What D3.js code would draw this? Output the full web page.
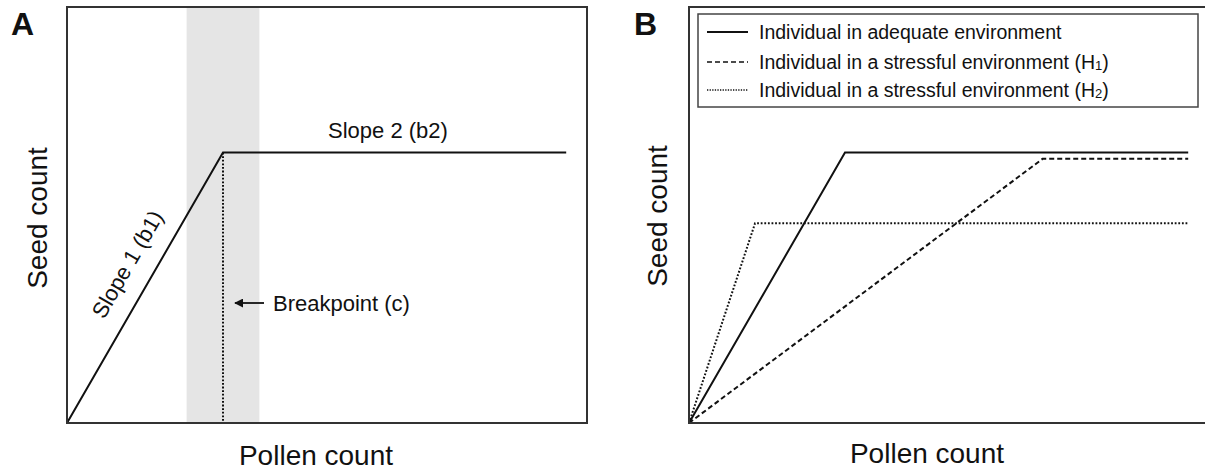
<!DOCTYPE html>
<html>
<head>
<meta charset="utf-8">
<script src="https://cdn.jsdelivr.net/npm/d3@7"></script>
<style>
  html, body { margin: 0; padding: 0; background: #fff; overflow: hidden; }
  svg { display: block; font-family: Arial, "Liberation Sans", sans-serif; overflow: hidden; }
</style>
</head>
<body>
<svg id="chart" width="1205" height="470"></svg>
<script>
// ---- Data (arbitrary conceptual units, 0-100) ----
const panelA_line = [[0, 0], [30, 65], [96, 65]];
const panelA_break = [[30, 65], [30, 0]];
const panelA_band = [23, 37];

const seriesNames = [
  "Individual in adequate environment",
  "Individual in a stressful environment (H",
  "Individual in a stressful environment (H"
];
const seriesSub = ["", "1", "2"];
const seriesAdequate = [[0, 0], [30, 65], [96, 65]];
const seriesH1 = [[0, 0], [68, 63.5], [96, 63.5]];
const seriesH2 = [[0, 0], [12.7, 48], [96, 48]];

const svg = d3.select("#chart");

function panel(x0, x1) {
  return {
    x: d3.scaleLinear().domain([0, 100]).range([x0, x1]),
    y: d3.scaleLinear().domain([0, 100]).range([423, 7])
  };
}
const A = panel(67, 587);
const B = panel(689, 1209);

const lineGen = s => d3.line().x(d => s.x(d[0])).y(d => s.y(d[1]));

// ---------- Panel A ----------
const gA = svg.append("g");
gA.append("rect")
  .attr("x", A.x(panelA_band[0])).attr("y", A.y(100))
  .attr("width", A.x(panelA_band[1]) - A.x(panelA_band[0]))
  .attr("height", A.y(0) - A.y(100))
  .attr("fill", "#e5e5e5");

gA.append("path").datum(panelA_break)
  .attr("d", lineGen(A))
  .attr("fill", "none").attr("stroke", "#111").attr("stroke-width", 2)
  .attr("stroke-dasharray", "1.8,1.8");

gA.append("path").datum(panelA_line)
  .attr("d", lineGen(A))
  .attr("fill", "none").attr("stroke", "#111").attr("stroke-width", 2);

gA.append("rect")
  .attr("x", A.x(0)).attr("y", A.y(100))
  .attr("width", A.x(100) - A.x(0)).attr("height", A.y(0) - A.y(100))
  .attr("fill", "none").attr("stroke", "#333").attr("stroke-width", 2);

// Slope 2 label
gA.append("text").attr("x", 328).attr("y", 138)
  .attr("font-size", 22).attr("fill", "#111").text("Slope 2 (b2)");

// Slope 1 label rotated along line
const ang = Math.atan2(A.y(0) - A.y(65), A.x(30) - A.x(0)) * 180 / Math.PI;
gA.append("text")
  .attr("transform", `translate(134,268) rotate(${-ang})`)
  .attr("text-anchor", "middle")
  .attr("font-size", 22).attr("fill", "#111").text("Slope 1 (b1)");

// Breakpoint arrow + label
svg.append("defs").append("marker")
  .attr("id", "arr").attr("viewBox", "0 0 10 10")
  .attr("refX", 9).attr("refY", 5)
  .attr("markerWidth", 5).attr("markerHeight", 5)
  .attr("orient", "auto")
  .append("path").attr("d", "M0,0 L10,5 L0,10 z").attr("fill", "#111");

gA.append("line")
  .attr("x1", 264).attr("y1", 303).attr("x2", 235).attr("y2", 303)
  .attr("stroke", "#111").attr("stroke-width", 1.8)
  .attr("marker-end", "url(#arr)");
gA.append("text").attr("x", 273).attr("y", 311)
  .attr("font-size", 22).attr("fill", "#111").text("Breakpoint (c)");

// Axis titles A
gA.append("text").attr("x", 316).attr("y", 465)
  .attr("text-anchor", "middle").attr("font-size", 28).attr("fill", "#111")
  .text("Pollen count");
gA.append("text")
  .attr("transform", "translate(47,218) rotate(-90)")
  .attr("text-anchor", "middle").attr("font-size", 28).attr("fill", "#111")
  .text("Seed count");
gA.append("text").attr("x", 11).attr("y", 35)
  .attr("font-size", 32).attr("font-weight", "bold").attr("fill", "#111")
  .text("A");

// ---------- Panel B ----------
const gB = svg.append("g");
const styles = [
  { dash: null, width: 2 },
  { dash: "5,3", width: 2 },
  { dash: "1.8,1.8", width: 2 }
];
const seriesData = [seriesAdequate, seriesH1, seriesH2];

seriesData.forEach((s, i) => {
  gB.append("path").datum(s)
    .attr("d", lineGen(B))
    .attr("fill", "none").attr("stroke", "#111")
    .attr("stroke-width", styles[i].width)
    .attr("stroke-dasharray", styles[i].dash);
});

// frame: right side is cropped off in the reference, so only top/left/bottom
const fx0 = B.x(0), fx1 = B.x(102), fy0 = B.y(100), fy1 = B.y(0);
gB.append("path")
  .attr("d", `M${fx1},${fy0}H${fx0}V${fy1}H${fx1}`)
  .attr("fill", "none").attr("stroke", "#333").attr("stroke-width", 2);

// Legend
const leg = gB.append("g");
leg.append("rect").attr("x", 698).attr("y", 14)
  .attr("width", 500).attr("height", 93)
  .attr("fill", "#fff").attr("stroke", "#444").attr("stroke-width", 1.5);
const rowY = [32, 62, 90];
seriesNames.forEach((name, i) => {
  leg.append("line")
    .attr("x1", 707).attr("x2", 748).attr("y1", rowY[i]).attr("y2", rowY[i])
    .attr("stroke", "#111").attr("stroke-width", i === 0 ? 1.8 : 1.5)
    .attr("stroke-dasharray", i === 2 ? "1.3,1.3" : styles[i].dash);
  const t = leg.append("text").attr("x", 759).attr("y", rowY[i] + 7)
    .attr("font-size", 19.5).attr("fill", "#111").text(name);
  if (seriesSub[i]) {
    t.append("tspan").attr("font-size", 13).attr("dy", 1).text(seriesSub[i]);
    t.append("tspan").attr("dy", -1).text(")");
  }
});

gB.append("text").attr("x", 927).attr("y", 463)
  .attr("text-anchor", "middle").attr("font-size", 28).attr("fill", "#111")
  .text("Pollen count");
gB.append("text")
  .attr("transform", "translate(667,216) rotate(-90)")
  .attr("text-anchor", "middle").attr("font-size", 28).attr("fill", "#111")
  .text("Seed count");
gB.append("text").attr("x", 634).attr("y", 35)
  .attr("font-size", 32).attr("font-weight", "bold").attr("fill", "#111")
  .text("B");
</script>
</body>
</html>
